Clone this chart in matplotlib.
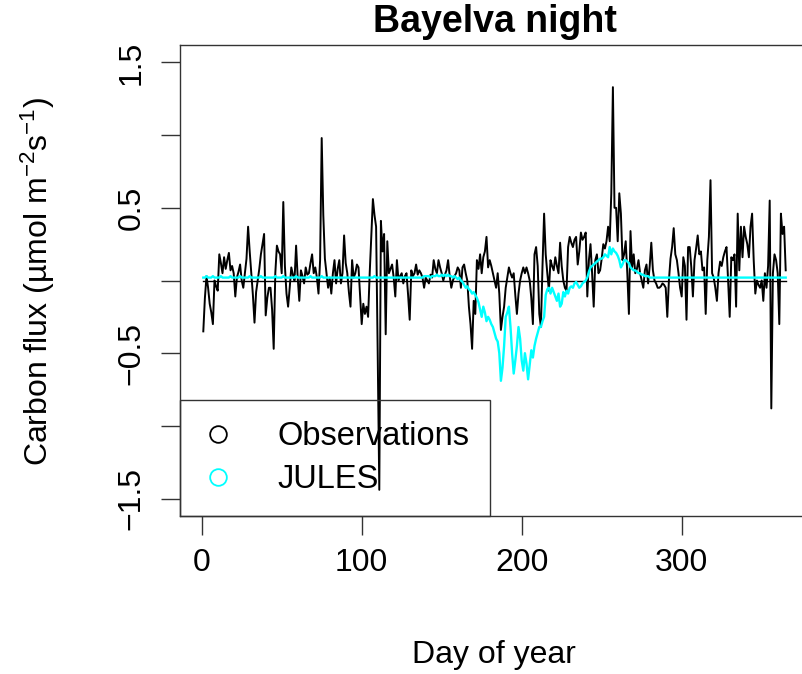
import numpy as np
import matplotlib
matplotlib.use("Agg")
import matplotlib.pyplot as plt
from matplotlib.lines import Line2D

plt.rcParams["font.family"] = ["Liberation Sans", "DejaVu Sans"]
plt.rcParams["mathtext.fontset"] = "custom"
plt.rcParams["mathtext.rm"] = "Liberation Sans"
plt.rcParams["mathtext.it"] = "Liberation Sans"

# daily night-time carbon flux, day 1..365
obs = [
    -0.35, -0.12, 0.03, -0.05, -0.16, -0.22, -0.30, 0.00, -0.04, -0.07,
    0.18, 0.12, 0.05, 0.16, 0.08, 0.14, 0.19, 0.07, 0.10, 0.05,
    -0.11, 0.02, 0.06, 0.11, 0.00, -0.05, 0.05, 0.15, 0.37, 0.20,
    0.05, -0.10, -0.29, -0.08, 0.00, 0.08, 0.18, 0.25, 0.32, -0.24,
    -0.12, -0.05, -0.05, -0.20, -0.47, 0.05, 0.24, 0.20, 0.18, 0.05,
    0.54, 0.10, -0.09, -0.18, -0.05, 0.09, 0.04, 0.00, 0.24, 0.02,
    -0.14, 0.07, 0.03, -0.02, 0.09, 0.04, 0.05, 0.12, 0.18, 0.05,
    0.09, 0.02, -0.09, 0.14, 0.98, 0.45, 0.15, 0.05, -0.05, 0.02,
    -0.09, 0.05, 0.14, -0.02, 0.08, 0.14, -0.02, 0.05, 0.31, 0.12,
    0.05, -0.08, -0.18, 0.14, 0.02, 0.05, 0.11, 0.09, -0.10, -0.30,
    -0.16, -0.23, -0.18, -0.25, 0.05, 0.30, 0.56, 0.45, 0.37, -0.50,
    -1.44, 0.41, 0.20, 0.32, -0.37, 0.27, 0.05, 0.08, 0.11, 0.02,
    -0.11, 0.14, 0.00, 0.03, 0.05, -0.02, 0.03, 0.05, -0.10, -0.27,
    0.07, 0.03, 0.05, 0.11, 0.04, 0.07, 0.05, 0.02, -0.05, 0.02,
    0.00, -0.02, 0.04, 0.02, 0.14, 0.08, 0.05, 0.14, 0.09, 0.05,
    0.00, 0.04, 0.07, 0.14, 0.03, -0.05, 0.00, 0.03, 0.05, 0.09,
    0.07, -0.05, 0.09, 0.11, 0.05, 0.00, -0.18, -0.30, -0.47, -0.14,
    -0.23, 0.14, 0.08, 0.18, 0.05, 0.16, 0.20, 0.30, 0.09, 0.14,
    0.10, 0.05, 0.00, -0.05, 0.05, -0.09, -0.34, -0.25, -0.18, -0.05,
    0.02, 0.09, 0.05, 0.02, 0.05, -0.10, -0.23, -0.09, 0.00, 0.05,
    0.09, 0.05, 0.09, 0.05, 0.00, -0.12, -0.30, 0.18, 0.23, 0.10,
    -0.23, -0.32, 0.10, 0.46, 0.18, 0.05, -0.07, 0.14, 0.10, 0.07,
    0.16, 0.10, 0.05, 0.26, 0.10, 0.00, -0.05, -0.07, 0.23, 0.30,
    0.26, 0.23, 0.28, 0.30, 0.11, 0.20, 0.33, 0.28, 0.30, 0.33,
    -0.11, 0.14, 0.25, 0.05, -0.18, 0.14, 0.18, 0.05, 0.07, 0.15,
    0.25, 0.22, 0.27, 0.37, 0.27, 0.60, 1.33, 0.50, 0.50, 0.27,
    0.60, 0.46, 0.14, 0.18, 0.27, 0.05, -0.23, 0.34, 0.09, 0.18,
    0.05, 0.08, 0.14, 0.05, 0.00, -0.05, 0.07, 0.11, -0.02, 0.10,
    0.26, 0.07, 0.00, -0.02, -0.05, -0.05, -0.04, -0.02, -0.03, -0.05,
    -0.25, 0.00, 0.15, 0.23, 0.36, 0.18, 0.14, 0.05, -0.05, -0.11,
    0.16, 0.10, -0.27, 0.23, 0.23, 0.09, -0.11, 0.14, 0.22, 0.31,
    0.18, 0.20, 0.07, 0.09, -0.23, 0.14, 0.30, 0.69, 0.05, 0.02,
    -0.05, -0.14, 0.05, 0.13, 0.10, 0.16, 0.20, 0.23, 0.00, -0.25,
    0.16, 0.14, 0.18, -0.18, 0.46, 0.07, 0.37, 0.16, 0.37, 0.30,
    0.25, 0.16, 0.37, 0.46, 0.14, -0.09, 0.00, -0.03, -0.05, 0.00,
    -0.14, 0.05, -0.05, 0.10, 0.55, -0.88, 0.05, 0.18, 0.14, 0.05,
    -0.30, 0.46, 0.32, 0.37, 0.07,
]

jules = [
    0.02, 0.02, 0.03, 0.02, 0.02, 0.02, 0.03, 0.02, 0.02, 0.02,
    0.02, 0.03, 0.02, 0.02, 0.02, 0.02, 0.02, 0.03, 0.02, 0.02,
    0.02, 0.02, 0.02, 0.03, 0.02, 0.02, 0.02, 0.02, 0.02, 0.03,
    0.02, 0.02, 0.02, 0.02, 0.02, 0.02, 0.03, 0.02, 0.02, 0.02,
    0.02, 0.02, 0.02, 0.02, 0.02, 0.03, 0.02, 0.02, 0.02, 0.02,
    0.03, 0.02, 0.02, 0.02, 0.02, 0.02, 0.02, 0.02, 0.03, 0.02,
    0.02, 0.02, 0.02, 0.02, 0.02, 0.02, 0.02, 0.03, 0.02, 0.02,
    0.02, 0.02, 0.02, 0.02, 0.03, 0.02, 0.02, 0.02, 0.02, 0.02,
    0.02, 0.02, 0.02, 0.02, 0.02, 0.02, 0.02, 0.02, 0.02, 0.02,
    0.02, 0.02, 0.02, 0.02, 0.02, 0.02, 0.02, 0.02, 0.02, 0.02,
    0.02, 0.02, 0.02, 0.02, 0.02, 0.02, 0.02, 0.03, 0.02, 0.02,
    0.02, 0.02, 0.02, 0.02, 0.02, 0.02, 0.02, 0.02, 0.02, 0.02,
    0.02, 0.02, 0.02, 0.02, 0.02, 0.02, 0.02, 0.02, 0.02, 0.02,
    0.02, 0.02, 0.02, 0.02, 0.02, 0.02, 0.02, 0.02, 0.03, 0.03,
    0.03, 0.03, 0.02, 0.03, 0.03, 0.03, 0.04, 0.03, 0.03, 0.04,
    0.03, 0.04, 0.03, 0.04, 0.03, 0.03, 0.02, 0.03, 0.02, 0.01,
    0.02, 0.00, -0.01, -0.03, -0.05, -0.04, -0.06, -0.07, -0.09, -0.08,
    -0.10, -0.12, -0.15, -0.20, -0.25, -0.18, -0.22, -0.28, -0.25, -0.27,
    -0.30, -0.32, -0.36, -0.40, -0.42, -0.50, -0.69, -0.60, -0.45, -0.25,
    -0.22, -0.18, -0.32, -0.50, -0.64, -0.55, -0.45, -0.32, -0.40, -0.55,
    -0.62, -0.50, -0.57, -0.68, -0.58, -0.48, -0.53, -0.45, -0.40, -0.36,
    -0.32, -0.32, -0.28, -0.25, -0.10, -0.06, -0.05, -0.09, -0.05, -0.08,
    -0.11, -0.14, -0.09, -0.18, -0.16, -0.08, -0.11, -0.07, -0.09, -0.05,
    -0.04, -0.05, -0.02, -0.01, -0.03, -0.05, -0.04, -0.02, -0.01, 0.00,
    0.02, 0.06, 0.09, 0.10, 0.11, 0.12, 0.13, 0.14, 0.15, 0.15,
    0.16, 0.18, 0.17, 0.16, 0.23, 0.18, 0.22, 0.20, 0.19, 0.17,
    0.14, 0.09, 0.11, 0.14, 0.14, 0.13, 0.12, 0.09, 0.08, 0.07,
    0.07, 0.06, 0.05, 0.05, 0.04, 0.04, 0.03, 0.03, 0.03, 0.02,
    0.02, 0.02, 0.02, 0.02, 0.02, 0.02, 0.02, 0.02, 0.02, 0.02,
    0.02, 0.02, 0.02, 0.02, 0.02, 0.02, 0.02, 0.02, 0.02, 0.02,
    0.02, 0.02, 0.02, 0.02, 0.02, 0.02, 0.02, 0.02, 0.02, 0.02,
    0.02, 0.02, 0.02, 0.02, 0.02, 0.02, 0.02, 0.02, 0.02, 0.02,
    0.02, 0.02, 0.02, 0.02, 0.02, 0.02, 0.02, 0.02, 0.02, 0.02,
    0.02, 0.02, 0.02, 0.02, 0.02, 0.02, 0.02, 0.02, 0.02, 0.02,
    0.02, 0.02, 0.02, 0.02, 0.02, 0.02, 0.02, 0.02, 0.02, 0.02,
    0.02, 0.02, 0.02, 0.02, 0.02, 0.02, 0.02, 0.02, 0.02, 0.02,
    0.02, 0.02, 0.02, 0.02, 0.02,
]

day = np.arange(1, len(obs) + 1)
xticks = [0, 100, 200, 300]
yticks = [-1.5, -1.0, -0.5, 0.0, 0.5, 1.0, 1.5]
ylabels = ["\u22121.5", "", "\u22120.5", "", "0.5", "", "1.5"]

W, H = 803, 674
fig = plt.figure(figsize=(W / 100, H / 100), dpi=100)
# box runs past the right edge of the picture, as in the reference
ax = fig.add_axes([180 / W, 1 - 516 / H, 629 / W, 471 / H])

ax.plot(day, obs, color="black", lw=1.4)
ax.plot([1, 365], [0, 0], color="black", lw=1.0)
ax.plot(day, jules, color="cyan", lw=1.7)

ax.set_xlim(-13.56, 379.56)
ax.set_ylim(-1.62, 1.62)
ax.set_xticks(xticks)
ax.set_yticks(yticks)
ax.set_yticklabels(ylabels, rotation=90, va="center")

for s in ax.spines.values():
    s.set_linewidth(1.0)
    s.set_color("#333333")
ax.tick_params(direction="out", length=14, width=1.0, color="#333333",
               labelsize=23, pad=9)
ax.tick_params(axis="y", pad=10)

fig.text(494 / W, 1 - 655 / H, "Day of year", fontsize=23,
         ha="center", va="center")
fig.text(38 / W, 1 - 282 / H, "Carbon flux (\u00b5mol m$^{-2}$s$^{-1}$)",
         fontsize=23, rotation=90, ha="center", va="center")
fig.text(495 / W, 1 - 22 / H, "Bayelva night", fontsize=27,
         fontweight="bold", ha="center", va="center")

handles = [
    Line2D([], [], ls="none", marker="o", mfc="none", mec="black",
           ms=12, mew=1.3),
    Line2D([], [], ls="none", marker="o", mfc="none", mec="cyan",
           ms=12, mew=1.3),
]
leg = ax.legend(handles, ["Observations", "JULES"], loc="lower left",
                fontsize=23.5, borderaxespad=0, borderpad=0.64,
                handlelength=1.02, handletextpad=1.33, labelspacing=0.36,
                fancybox=False, framealpha=1)
leg.get_frame().set_facecolor("none")
leg.get_frame().set_edgecolor("#333333")
leg.get_frame().set_linewidth(1.0)

fig.savefig("out.png", dpi=100)
